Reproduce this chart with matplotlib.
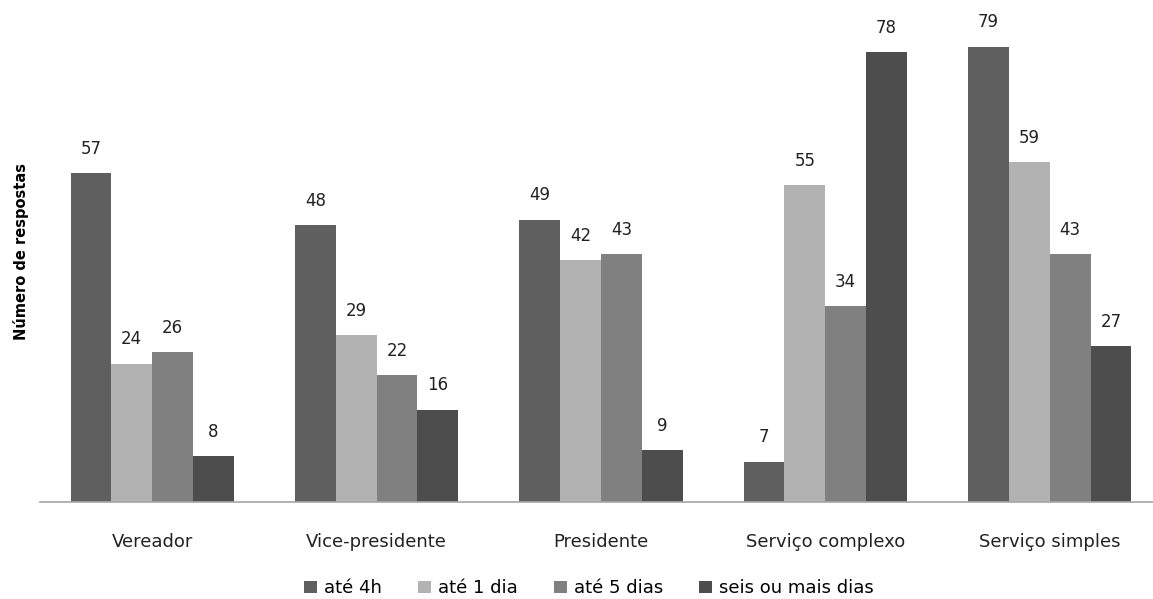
import numpy as np
import matplotlib.pyplot as plt
from matplotlib.patches import Patch

categories = ["Vereador", "Vice-presidente", "Presidente", "Serviço complexo", "Serviço simples"]
series_names = ["até 4h", "até 1 dia", "até 5 dias", "seis ou mais dias"]
ate_4h = [57, 48, 49, 7, 79]
ate_1_dia = [24, 29, 42, 55, 59]
ate_5_dias = [26, 22, 43, 34, 43]
seis_ou_mais = [8, 16, 9, 78, 27]
colors = ["#5f5f5f", "#b2b2b2", "#808080", "#4d4d4d"]

series = [ate_4h, ate_1_dia, ate_5_dias, seis_ou_mais]

fig = plt.figure(figsize=(11.53, 5.99), dpi=100)
ax = fig.add_axes([0.0347, 0.162, 0.973, 0.818])

x = np.arange(len(categories))
width = 0.182
for i, (vals, col) in enumerate(zip(series, colors)):
    pos = x + (i - 1.5) * width
    bars = ax.bar(pos, vals, width, color=col, label=series_names[i])
    for b, v in zip(bars, vals):
        ax.annotate(str(v), (b.get_x() + b.get_width() / 2, v),
                    xytext=(0, 11), textcoords="offset points",
                    ha="center", va="bottom", fontsize=12, color="#222222")

ax.set_xlim(-0.5, len(categories) - 0.5)
ax.set_ylim(0, 85)
ax.set_xticks(x)
ax.set_xticklabels(categories, fontsize=13, color="#222222")
ax.tick_params(axis="x", length=0, pad=22)
ax.set_yticks([])
for s in ["top", "right", "left"]:
    ax.spines[s].set_visible(False)
ax.spines["bottom"].set_color("#a6a6a6")
ax.spines["bottom"].set_linewidth(1.2)

fig.text(0.018, 0.58, "Número de respostas", rotation=90, ha="center", va="center",
         fontsize=10.5, fontweight="bold")

handles = [Patch(facecolor=c) for c in colors]
fig.legend(handles, series_names, loc="center", bbox_to_anchor=(0.511, 0.018),
           ncol=4, frameon=False, fontsize=13, handlelength=0.7, handleheight=0.7,
           handletextpad=0.4, columnspacing=2.0)

fig.savefig("out.png", dpi=100)
